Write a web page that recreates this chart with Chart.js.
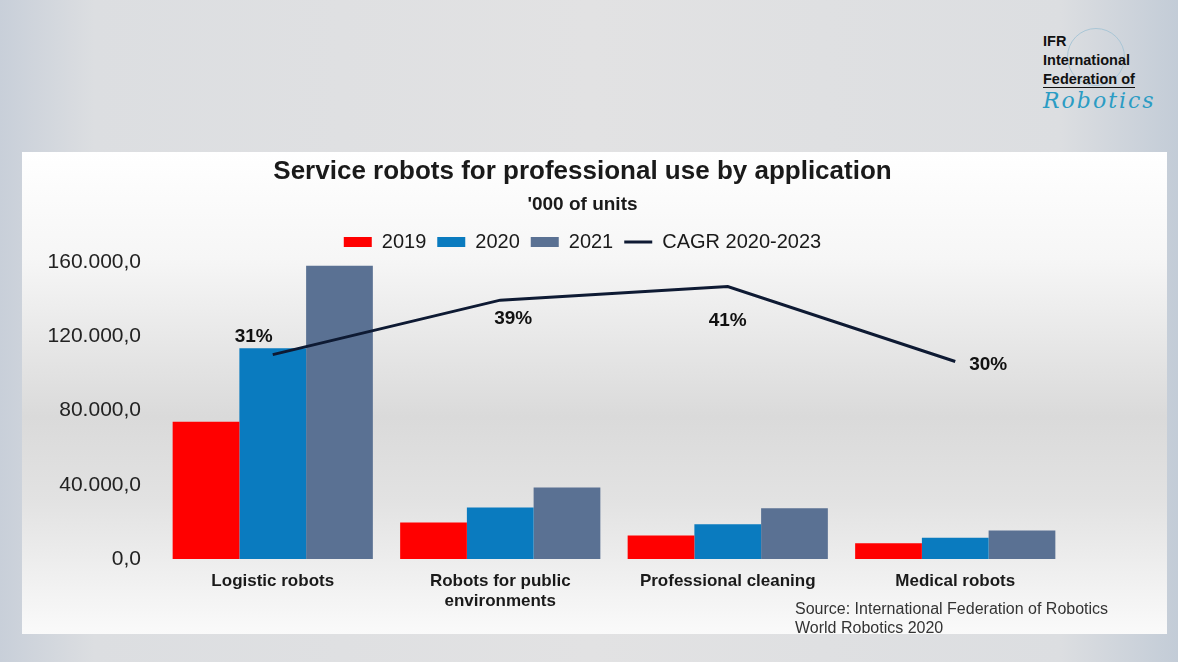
<!DOCTYPE html>
<html>
<head>
<meta charset="utf-8">
<script src="https://cdn.jsdelivr.net/npm/chart.js@4.4.1/dist/chart.umd.min.js"></script>
<style>
  html, body { margin: 0; padding: 0; }
  body {
    width: 1178px; height: 662px; position: relative; overflow: hidden;
    font-family: 'Liberation Sans', Arial, sans-serif;
    background: linear-gradient(to right, #c8cfd9 0%, #dcdee1 8%, #e2e2e3 50%, #dcdee1 90%, #c3ccd7 100%);
  }
  #panel {
    position: absolute; left: 22px; top: 152px; width: 1145px; height: 482px;
    background: linear-gradient(to bottom, #ffffff 0%, #f6f6f6 22%, #dadada 55%, #e2e2e2 72%, #fafafa 100%);
  }
  #chart { display: block; }
  #logo {
    position: absolute; left: 1043px; top: 32px; color: #111;
    font-weight: bold; font-size: 14.5px; line-height: 19px;
  }
  #logo .u { border-bottom: 1px solid #111; }
  #logo .script {
    font-family: 'DejaVu Serif', serif; font-style: italic; font-weight: normal;
    color: #2b9cc4; font-size: 22px; letter-spacing: 2px; line-height: 24px;
  }
  #globe {
    position: absolute; left: 1067px; top: 28px; width: 56px; height: 56px;
    border: 1px solid #a9c6d6; border-radius: 50%;
  }
  #source {
    position: absolute; left: 795px; top: 599px; color: #333;
    font-size: 16px; line-height: 19px;
  }
</style>
</head>
<body>
<div id="globe"></div>
<div id="logo">IFR<br>International<br><span class="u">Federation of</span><br><span class="script">Robotics</span></div>
<div id="panel"><canvas id="chart" width="1145" height="482"></canvas></div>
<div id="source">Source: International Federation of Robotics<br>World Robotics 2020</div>
<script>
// Данные: тысячи единиц по областям применения
const categories = ['Logistic robots', ['Robots for public', 'environments'], 'Professional cleaning', 'Medical robots'];
const units2019 = [74000, 19600, 12600, 8500];
const units2020 = [113500, 27700, 18700, 11500];
const units2021 = [158000, 38500, 27400, 15300];
const cagr = [31, 39, 41, 30]; // CAGR 2020-2023, %
const yTicks = [0, 40000, 80000, 120000, 160000];

// сдвиги подписей CAGR относительно точки линии
const labelShift = [[-19, -18], [13, 19], [0, 34], [33, 3]];

function fmt(v) {
    return v.toFixed(1).replace('.', ',').replace(/\B(?=(\d{3})+(?!\d))/g, '.');
}

const font = "'Liberation Sans', Arial, sans-serif";

const cagrLabels = {
    id: 'cagrLabels',
    afterDatasetsDraw(chart) {
        const meta = chart.getDatasetMeta(3);
        const ctx = chart.ctx;
        ctx.save();
        ctx.font = "bold 19px " + font;
        ctx.fillStyle = '#111';
        ctx.textAlign = 'center';
        ctx.textBaseline = 'middle';
        meta.data.forEach((pt, i) => {
            ctx.fillText(cagr[i] + '%', pt.x + labelShift[i][0], pt.y + labelShift[i][1]);
        });
        ctx.restore();
    }
};

new Chart(document.getElementById('chart'), {
    type: 'bar',
    data: {
        labels: categories,
        datasets: [
            { label: '2019', data: units2019, backgroundColor: '#ff0000', order: 2 },
            { label: '2020', data: units2020, backgroundColor: '#0a7bbf', order: 2 },
            { label: '2021', data: units2021, backgroundColor: '#5a7193', order: 2 },
            {
                label: 'CAGR 2020-2023', type: 'line', data: cagr, yAxisID: 'y2',
                borderColor: '#0e1a33', backgroundColor: '#0e1a33', borderWidth: 3,
                pointRadius: 0, tension: 0, order: 1
            }
        ]
    },
    options: {
        responsive: false,
        animation: false,
        devicePixelRatio: 1,
        categoryPercentage: 0.88,
        barPercentage: 1,
        layout: { padding: { left: 0, right: 24, top: 0, bottom: 0 } },
        plugins: {
            title: {
                display: true,
                text: 'Service robots for professional use by application',
                color: '#1a1a1a',
                font: { size: 26, weight: 'bold', family: font },
                padding: { top: 4, bottom: 6 }
            },
            subtitle: {
                display: true,
                text: "'000 of units",
                color: '#1a1a1a',
                font: { size: 19, weight: 'bold', family: font },
                padding: { top: 0, bottom: 5 }
            },
            legend: {
                labels: {
                    color: '#1a1a1a',
                    font: { size: 20, family: font },
                    usePointStyle: true,
                    pointStyleWidth: 28,
                    boxHeight: 10,
                    padding: 11,
                    sort: (a, b) => a.datasetIndex - b.datasetIndex,
                    generateLabels(chart) {
                        const items = Chart.defaults.plugins.legend.labels.generateLabels(chart);
                        items.forEach(it => {
                            const isLine = it.datasetIndex === 3;
                            it.pointStyle = isLine ? 'line' : 'rect';
                            it.lineWidth = isLine ? 3 : 0;
                        });
                        return items;
                    }
                }
            },
            tooltip: { enabled: false }
        },
        scales: {
            x: {
                grid: { display: false },
                border: { display: false },
                ticks: {
                    color: '#1a1a1a',
                    font: { size: 17, weight: 'bold', family: font },
                    padding: 4,
                    maxRotation: 0
                },
                afterFit(scale) { scale.height = 75; }
            },
            y: {
                min: 0,
                max: 160000,
                grid: { display: false },
                border: { display: false },
                afterBuildTicks(scale) { scale.ticks = yTicks.map(v => ({ value: v })); },
                ticks: {
                    color: '#222',
                    font: { size: 21, family: font },
                    padding: 10,
                    callback: v => fmt(v)
                },
                afterFit(scale) { scale.width = 137; }
            },
            y2: {
                position: 'right',
                min: 1,
                max: 44.6,
                grid: { display: false },
                border: { display: false },
                ticks: { display: false },
                afterFit(scale) { scale.width = 74; }
            }
        }
    },
    plugins: [cagrLabels]
});
</script>
</body>
</html>
